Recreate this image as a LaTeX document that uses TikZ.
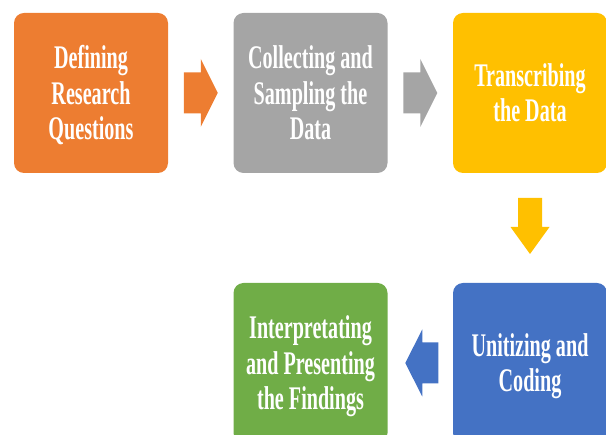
\documentclass[tikz,border=0pt]{standalone}
\usepackage{fontspec}
\usepackage{graphicx}
\setmainfont{Liberation Serif}
\usetikzlibrary{calc}
\definecolor{cOrange}{HTML}{ED7D31}
\definecolor{cGray}{HTML}{A5A5A5}
\definecolor{cYellow}{HTML}{FFC000}
\definecolor{cBlue}{HTML}{4472C4}
\definecolor{cGreen}{HTML}{70AD47}
\newcommand\sqz[1]{\raisebox{-4pt}[\height][\depth]{\scalebox{0.61}[1]{\begin{tabular}{@{}c@{}}#1\end{tabular}}}}
\tikzset{
  box/.style={rounded corners=10pt, minimum width=154pt, minimum height=160pt,
    inner sep=0pt, text=white, font=\bfseries\fontsize{33}{35.5}\selectfont, align=center},
}
\begin{document}
\begin{tikzpicture}[x=1pt,y=1pt]
\useasboundingbox (0,0) rectangle (606,-435);
\clip (0,0) rectangle (606,-435);
\node[box, fill=cOrange] (b1) at (91,-93) {\sqz{Defining\\Research\\Questions}};
\node[box, fill=cGray] (b2) at (310.5,-93) {\sqz{Collecting and\\Sampling the\\Data}};
\node[box, fill=cYellow] (b3) at (530,-93) {\sqz{Transcribing\\the Data}};
\node[box, fill=cBlue] (b4) at (530,-363) {\sqz{Unitizing and\\Coding}};
\node[box, fill=cGreen] (b5) at (310.5,-363) {\sqz{Interpretating\\and Presenting\\the Findings}};
% arrows
\coordinate (a1) at ($(b1.east)!0.5!(b2.west)$);
\coordinate (a2) at ($(b2.east)!0.5!(b3.west)$);
\coordinate (a3) at ($(b3.south)!0.5!(b4.north)$);
\coordinate (a4) at ($(b4.west)!0.5!(b5.east)$);
\fill[cOrange] ($(a1)+(-17,20.5)$) -- ($(a1)+(0,20.5)$) -- ($(a1)+(0,34)$) -- ($(a1)+(17,0)$)
  -- ($(a1)+(0,-34)$) -- ($(a1)+(0,-20.5)$) -- ($(a1)+(-17,-20.5)$) -- cycle;
\fill[cGray] ($(a2)+(-17,20.5)$) -- ($(a2)+(0,20.5)$) -- ($(a2)+(0,34)$) -- ($(a2)+(17,0)$)
  -- ($(a2)+(0,-34)$) -- ($(a2)+(0,-20.5)$) -- ($(a2)+(-17,-20.5)$) -- cycle;
\fill[cYellow] ($(a3)+(-12,30)$) -- ($(a3)+(12,30)$) -- ($(a3)+(12,1)$) -- ($(a3)+(19.5,1)$)
  -- ($(a3)+(0,-26)$) -- ($(a3)+(-19.5,1)$) -- ($(a3)+(-12,1)$) -- cycle;
\fill[cBlue] ($(a4)+(18,20.5)$) -- ($(a4)+(2,20.5)$) -- ($(a4)+(2,33.5)$) -- ($(a4)+(-15,0)$)
  -- ($(a4)+(2,-33.5)$) -- ($(a4)+(2,-20.5)$) -- ($(a4)+(18,-20.5)$) -- cycle;
\end{tikzpicture}
\end{document}
